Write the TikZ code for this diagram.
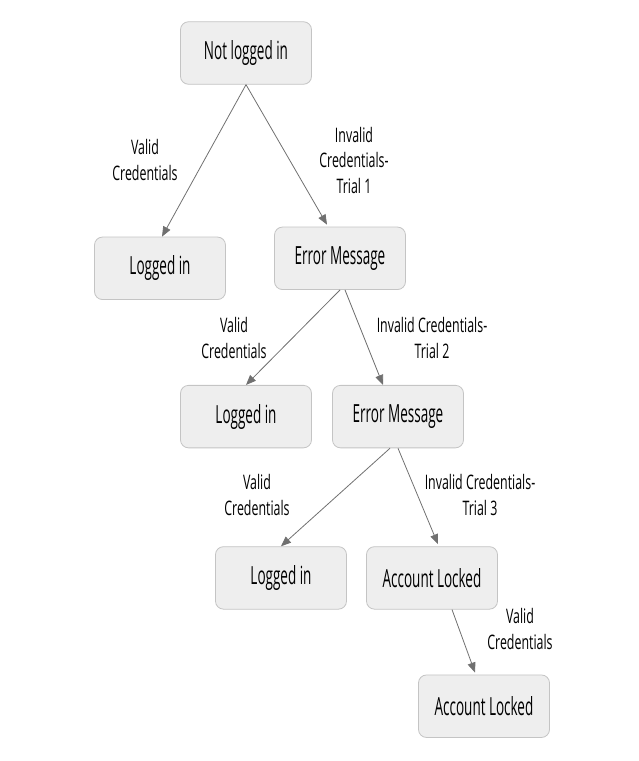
\documentclass[tikz,border=0pt]{standalone}
\usepackage{fontspec}
\setmainfont{Open Sans}
\newfontfamily\boxfont[FakeStretch=0.54]{Open Sans}
\newfontfamily\lblfont[FakeStretch=0.62]{Open Sans}
\usetikzlibrary{arrows.meta,positioning}
\definecolor{boxfill}{HTML}{EEEEEE}
\definecolor{boxline}{HTML}{C4C4C4}
\definecolor{edgegray}{HTML}{707070}

\begin{document}
\begin{tikzpicture}[st/.style={draw=boxline, fill=boxfill, rounded corners=4pt, align=center, minimum width=65.5pt, minimum height=31.25pt, inner sep=0pt, font=\boxfont\fontsize{12.5}{14}\selectfont}, lbl/.style={align=center, inner sep=0pt, font=\lblfont\fontsize{10}{12.75}\selectfont}, arr/.style={draw=edgegray, -{Triangle[length=5pt,width=4pt]}}]
\useasboundingbox (0,0) rectangle (319pt,-380.5pt);
% states
\node[st] (nl) at (123pt,-26.5pt) {Not logged in};
\node[st, below=76pt of nl, xshift=-43pt] (li1) {Logged in};
\node[st, below=71pt of nl, xshift=47pt] (em1) {Error Message};
\node[st, below=47.5pt of em1, xshift=-47pt] (li2) {Logged in};
\node[st, below=47.5pt of em1, xshift=29pt] (em2) {Error Message};
\node[st, below=49pt of em2, xshift=-58.5pt] (li3) {Logged in};
\node[st, below=49pt of em2, xshift=17pt] (al1) {Account Locked};
\node[st, below=32.5pt of al1, xshift=26pt] (al2) {Account Locked};
% transition labels
\node[lbl] (v1) at (72.5pt,-80pt) {Valid\\Credentials};
\node[lbl] (i1) at (177pt,-80pt) {Invalid\\Credentials-\\Trial 1};
\node[lbl] (v2) at (117pt,-169pt) {Valid\\Credentials};
\node[lbl] (i2) at (216pt,-169pt) {Invalid Credentials-\\Trial 2};
\node[lbl] (v3) at (128.5pt,-247.5pt) {Valid\\Credentials};
\node[lbl] (i3) at (240pt,-247.5pt) {Invalid Credentials-\\Trial 3};
\node[lbl] (v4) at (260pt,-314.5pt) {Valid\\Credentials};
% transitions
\draw[arr] (nl.south) -- ([xshift=1pt]li1.north); \draw[arr] (nl.south) -- ([xshift=-6.5pt,yshift=1pt]em1.north);
\draw[arr] (em1.south) -- (li2.north); \draw[arr] ([xshift=2.5pt]em1.south) -- ([xshift=-7.5pt]em2.north);
\draw[arr] ([xshift=-4pt]em2.south) -- (li3.north); \draw[arr] (em2.south) -- ([xshift=3pt,yshift=1pt]al1.north);
\draw[arr] ([xshift=10pt]al1.south) -- ([xshift=-4.5pt,yshift=1pt]al2.north);
\end{tikzpicture}
\end{document}
